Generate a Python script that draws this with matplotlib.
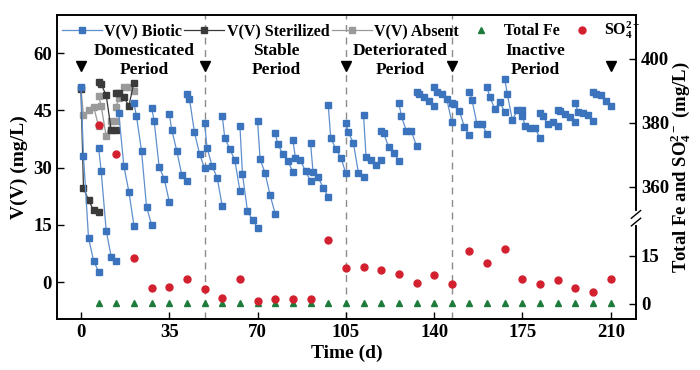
import matplotlib
matplotlib.use("Agg")
import matplotlib.pyplot as plt
import matplotlib.transforms as mtransforms

plt.rcParams['font.family'] = ['Liberation Serif', 'DejaVu Serif']
plt.rcParams['font.weight'] = 'bold'
plt.rcParams['mathtext.fontset'] = 'custom'
plt.rcParams['mathtext.rm'] = 'Liberation Serif:bold'
plt.rcParams['mathtext.bf'] = 'Liberation Serif:bold'
plt.rcParams['mathtext.it'] = 'Liberation Serif:bold:italic'

nan = float('nan')

# sampling days inside one 7-day batch
cycle_days = [0, 1, 3, 5, 7]

# V(V) biotic, one row per batch
biotic_start = [0, 7, 14, 21, 28, 35, 42, 49, 56, 63, 70, 77, 84, 91, 98,
                105, 112, 119, 126, 133, 140, 147, 154, 161, 168, 175, 182,
                189, 196, 203]
biotic_v = [
    [51.1, 33.1, 11.6, 5.6, 2.7],
    [35.2, 29.2, 13.5, 6.6, 5.6],
    [nan, 44.2, 30.4, 23.7, 14.8],
    [46.9, 43.5, 34.4, 19.7, 15.0],
    [45.7, 42.3, 30.1, 27.1, 21.1],
    [44.0, 39.9, 34.3, 28.0, 26.5],
    [49.2, 48.1, 39.2, 33.6, 29.8],
    [41.6, 35.1, 30.4, 27.3, 19.9],
    [43.6, 37.8, 34.9, 31.9, 23.9],
    [41.0, 28.4, 18.6, 16.2, 14.2],
    [42.1, 32.3, 28.5, 22.7, 17.9],
    [39.0, 36.1, 33.6, 31.7, 28.9],
    [37.2, 32.6, 31.9, 29.0, 26.5],
    [36.4, 28.8, 27.5, 24.7, 22.4],
    [46.5, 37.8, 34.9, 32.6, 28.5],
    [41.6, 39.2, 36.4, 28.5, 27.4],
    [43.9, 32.7, 32.0, 30.7, 31.9],
    [39.6, 39.0, 35.3, 33.8, 31.7],
    [46.9, 43.5, 39.5, 39.5, 35.6],
    [49.8, 49.2, 48.6, 47.5, 46.2],
    [51.0, 49.9, 49.2, 47.9, 41.9],
    [46.8, 46.6, 44.8, 40.6, 38.5],
    [49.9, 47.7, 41.3, 41.3, 38.7],
    [51.0, 48.6, 45.4, 47.1, 44.6],
    [53.1, 49.2, 42.4, 45.1, 45.1],
    [43.5, 41.0, 40.4, 40.3, 37.7],
    [44.4, 43.5, 41.5, 41.9, 41.0],
    [45.1, 44.7, 44.0, 43.3, 42.0],
    [46.9, 44.5, 44.2, 43.9, 42.3],
    [49.8, 49.4, 48.9, 47.5, 46.2],
]

control_start = [0, 7, 14]
sterilized_v = [
    [50.6, 24.6, 21.5, 18.8, 18.3],
    [52.4, 51.8, 49.0, 39.8, 39.8],
    [49.6, 49.5, 48.4, 46.2, 52.3],
]
absent_v = [
    [50.8, 43.8, 45.1, 46.0, 40.8],
    [48.8, 46.2, 38.2, 42.3, 42.3],
    [46.0, 48.2, 51.2, 51.1, 50.2],
]

# right axis data
fe_days = [7, 14, 21, 28, 35, 42, 49, 56, 63, 70, 77, 84, 91, 98, 105,
           112, 119, 126, 133, 140, 147, 154, 161, 168, 175, 182, 189, 196,
           203, 210]
total_fe = [0.4, 0.4, 0.4, 0.4, 0.4, 0.4, 0.4, 0.4, 0.4, 0.4, 0.4, 0.4,
            0.4, 0.4, 0.4, 0.4, 0.4, 0.4, 0.4, 0.4, 0.4, 0.4, 0.4, 0.4,
            0.4, 0.4, 0.4, 0.4, 0.4, 0.4]
so4 = [379.2, 370.1, 14.4, 5.1, 5.3, 7.8, 4.6, 2.0, 7.8, 0.8, 1.6, 1.7,
       1.6, 19.9, 11.3, 11.7, 10.5, 9.3, 6.4, 8.9, 6.1, 16.7, 12.7, 17.3,
       7.8, 6.1, 7.5, 5.0, 3.6, 7.8]

period_bounds = [49, 105, 147]
period_marks = [0, 49, 105, 147, 210]
period_names = ["Domesticated\nPeriod", "Stable\nPeriod",
                "Deteriorated\nPeriod", "Inactive\nPeriod"]
period_centers = [25, 77.5, 126.7, 180]

right_ticks = [0, 15, 360, 380, 400]

BREAK_SHIFT = 323.3


def to_right(v):
    # broken right axis: upper band (360-400) is shifted down
    return v - BREAK_SHIFT if v > 100 else v


blue = '#3b73bd'
blue_line = '#5f8fce'
dark = '#3a3a3a'
light = '#9a9a9a'

fig = plt.figure(figsize=(7, 3.7), dpi=100)
ax = fig.add_axes([0.0814, 0.1378, 0.8272, 0.8217])
ax2 = ax.twinx()

for i, start in enumerate(control_start):
    xs = [start + d for d in cycle_days]
    ax.plot(xs, absent_v[i], color=light, lw=0.9, marker='s', ms=4,
            mfc=light, mec=light, label='V(V) Absent' if i == 0 else None,
            zorder=2)
    ax.plot(xs, sterilized_v[i], color=dark, lw=0.9, marker='s', ms=4,
            mfc=dark, mec=dark, label='V(V) Sterilized' if i == 0 else None,
            zorder=3)

for i, start in enumerate(biotic_start):
    xs = [start + d for d in cycle_days]
    ax.plot(xs, biotic_v[i], color=blue_line, lw=0.9, marker='s', ms=4.3,
            mfc=blue, mec=blue, label='V(V) Biotic' if i == 0 else None,
            zorder=4)

for xb in period_bounds:
    ax.axvline(xb, color='#8c8c8c', lw=1, ls=(0, (5, 4)), zorder=1)

ax.plot(period_marks, [56.6] * len(period_marks), ls='none', marker='v',
        ms=7, color='black', zorder=5)
for name, xc in zip(period_names, period_centers):
    ax.text(xc, 58.0, name, ha='center', va='center', fontsize=12.5,
            fontweight='bold', linespacing=1.25)

ax.set_xlim(-9.5, 220)
ax.set_ylim(-9.7, 70)
ax.set_xticks([0, 35, 70, 105, 140, 175, 210])
ax.set_yticks([0, 15, 30, 45, 60])
ax.set_xlabel('Time (d)', fontsize=14, fontweight='bold', labelpad=3)
ax.set_ylabel('V(V) (mg/L)', fontsize=14, fontweight='bold', labelpad=4)

ax2.plot(fe_days, [to_right(v) for v in total_fe], ls='none', marker='^',
         ms=5, color='#1e7b3c', label='Total Fe', zorder=5)
ax2.plot(fe_days, [to_right(v) for v in so4], ls='none', marker='o',
         ms=5, color='#d3202f', label='SO$_4^{2-}$', zorder=6)
ax2.set_ylim(-4.7, 90.3)
ax2.set_yticks([to_right(v) for v in right_ticks])
ax2.set_yticklabels([str(v) for v in right_ticks])
ax2.set_ylabel('Total Fe and SO$_4^{2-}$ (mg/L)', fontsize=13.5,
               fontweight='bold', labelpad=0)

for a in (ax, ax2):
    a.tick_params(direction='in', length=5, width=1, labelsize=13.5)
    for sp in a.spines.values():
        sp.set_linewidth(1.2)
    for lab in a.get_xticklabels() + a.get_yticklabels():
        lab.set_fontweight('bold')

# break marks on the right spine
trans = mtransforms.blended_transform_factory(ax2.transAxes, ax2.transData)
ax2.plot([1, 1], [25.4, 28.4], color='white', lw=3, transform=trans,
         clip_on=False, zorder=10)
for yb in (25.4, 27.8):
    ax2.plot([0.992, 1.008], [yb - 1.0, yb + 1.4], color='black', lw=1,
             transform=trans, clip_on=False, zorder=11)

h1, l1 = ax.get_legend_handles_labels()
h2, l2 = ax2.get_legend_handles_labels()
order = ['V(V) Biotic', 'V(V) Sterilized', 'V(V) Absent']
handles = [h1[l1.index(n)] for n in order] + h2
labels = order + l2
leg = ax2.legend(handles, labels, ncol=5, loc='upper left',
                 bbox_to_anchor=(0.0, 1.0), frameon=False, fontsize=11.5,
                 handlelength=2.5, handletextpad=0.15, columnspacing=0.15,
                 borderaxespad=0.2, borderpad=0.1, numpoints=1)
for t in leg.get_texts():
    t.set_fontweight('bold')

fig.savefig('out.png', dpi=100)
